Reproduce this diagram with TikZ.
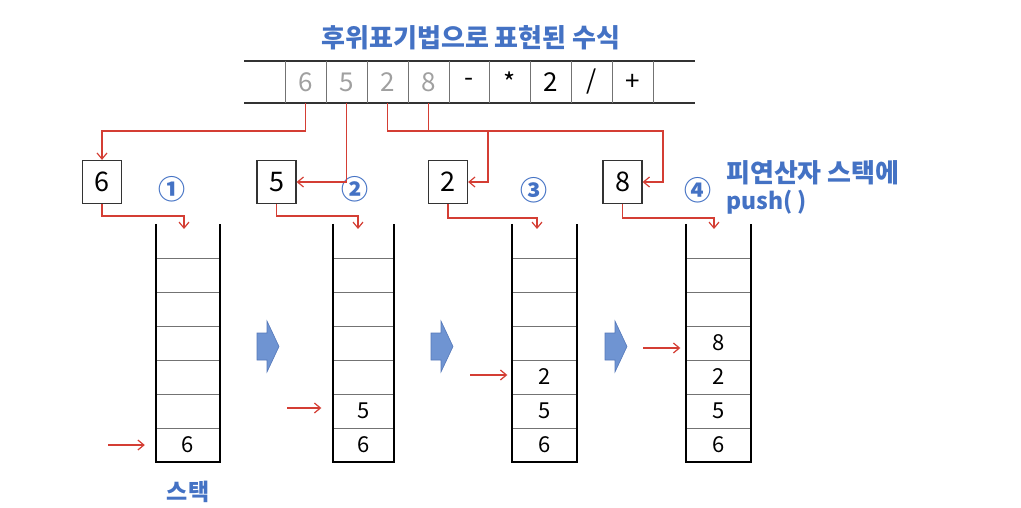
\documentclass[tikz,border=0pt]{standalone}
\usepackage{fontspec}
\setmainfont{Noto Sans CJK KR}
\usetikzlibrary{arrows.meta}
\definecolor{kblue}{RGB}{68,114,196}
\definecolor{kred}{RGB}{212,62,52}
\definecolor{kgray}{RGB}{160,160,160}
\definecolor{arrfill}{RGB}{111,148,210}
\definecolor{arrdraw}{RGB}{85,120,185}
\tikzset{
  cell/.style={minimum width=41pt,minimum height=42pt,inner sep=0pt,font=\fontsize{26}{28}\selectfont},
  graycell/.style={cell,text=kgray},
  valbox/.style={draw=black!80,line width=1.2pt,minimum width=39pt,minimum height=43pt,inner sep=0pt,font=\fontsize{27}{29}\selectfont},
  scell/.style={minimum width=64pt,minimum height=34pt,inner sep=0pt,font=\fontsize{22}{24}\selectfont},
  redarr/.style={draw=kred,line width=1.2pt,-{Straight Barb[length=6pt,width=10pt]}},
  wall/.style={line width=2.6pt,black},
  divider/.style={line width=1pt,black!55},
  blabel/.style={text=kblue,font=\bfseries\fontsize{26}{28}\selectfont,inner sep=0pt},
  circnum/.style={text=kblue,font=\bfseries\fontsize{27}{29}\selectfont,inner sep=0pt},
  blockarr/.style={fill=arrfill,draw=arrdraw,line width=0.6pt}
}
\begin{document}
\begin{tikzpicture}[x=1pt,y=-1pt]
\useasboundingbox (0,0) rectangle (1021,508);
% title
\node[text=kblue,font=\bfseries\fontsize{26}{30}\selectfont] (title) at (471,38) {후위표기법으로 표현된 수식};
% table
\draw[line width=1.8pt,black!80] (244,61) -- (695,61);
\draw[line width=1.8pt,black!80] (244,103) -- (695,103);
\foreach \x in {285,326,367,408,449,489.5,530.5,571.5,612.5,653.5}
  \draw[line width=1pt,black!55] (\x,61) -- (\x,103);
\node[graycell] (c1) at (305.5,82) {6};
\node[graycell] (c2) at (346.5,82) {5};
\node[graycell] (c3) at (387.5,82) {2};
\node[graycell] (c4) at (428.5,82) {8};
\node[cell] (c5) at (469,82) {-};
\node[cell] (c6) at (510,82) {*};
\node[cell] (c7) at (551,82) {2};
\node[cell] (c8) at (592,82) {/};
\node[cell] (c9) at (633,82) {+};
% value boxes
\node[valbox] (b1) at (102,182) {6};
\node[valbox] (b2) at (276.5,182) {5};
\node[valbox] (b3) at (448,182) {2};
\node[valbox] (b4) at (622.5,182) {8};
% circled numbers
\node[circnum] (n1) at (172,189) {①};
\node[circnum] (n2) at (355,189) {②};
\node[circnum] (n3) at (534,190) {③};
\node[circnum] (n4) at (698,190) {④};
\node[blabel,anchor=west] (lab1) at (726,173) {피연산자 스택에};
\node[blabel,anchor=west,font=\bfseries\fontsize{23}{26}\selectfont] (lab2) at (726,202) {push( )};
% connectors from table to boxes
\coordinate (j1) at (102,131);
\coordinate (j3) at (488,131);
\coordinate (j4) at (663,131);
\draw[redarr] (c1.south) |- (j1) -- (b1.north);
\draw[redarr] (c2.south) |- (b2.east);
\draw[redarr] (c3.south) |- (j3) |- (b3.east);
\draw[redarr] (c4.south) |- (j4) |- (b4.east);
% stacks
\foreach \l/\r in {156/220,333/394,512/577,686/751}{
  \foreach \y in {258,292,326,360,394,428}
    \draw[divider] (\l,\y) -- (\r,\y);
  \draw[wall] (\l,224) -- (\l,462) -- (\r,462) -- (\r,224);
}
% stack contents
\node[scell] (s1a) at (188,445) {6};
\node[scell] (s2a) at (363.5,445) {6};
\node[scell] (s2b) at (363.5,411) {5};
\node[scell] (s3a) at (544.5,445) {6};
\node[scell] (s3b) at (544.5,411) {5};
\node[scell] (s3c) at (544.5,377) {2};
\node[scell] (s4a) at (718.5,445) {6};
\node[scell] (s4b) at (718.5,411) {5};
\node[scell] (s4c) at (718.5,377) {2};
\node[scell] (s4d) at (718.5,343) {8};
\node[text=kblue,font=\bfseries\fontsize{23}{26}\selectfont] (stk) at (188,492) {스택};
% connectors from boxes to stack tops
\coordinate (t1) at (184,229);
\coordinate (t2) at (358,229);
\coordinate (t3) at (537,229);
\coordinate (t4) at (714,229);
\draw[redarr] (b1.south) -- ++(0,12) -| (t1);
\draw[redarr] (b2.south) -- ++(0,12) -| (t2);
\draw[redarr] (b3.south) -- ++(0,14) -| (t3);
\draw[redarr] (b4.south) -- ++(0,14) -| (t4);
% push arrows
\coordinate (p1) at (108,445);
\coordinate (p2) at (287,408);
\coordinate (p3) at (470,375);
\coordinate (p4) at (643,348);
\draw[redarr] (p1) -- ([xshift=-11pt]s1a.west);
\draw[redarr] (p2) -- ([xshift=-10pt,yshift=3pt]s2b.west);
\draw[redarr] (p3) -- ([xshift=-5pt,yshift=2pt]s3c.west);
\draw[redarr] (p4) -- ([xshift=-6pt,yshift=-5pt]s4d.west);
% block arrows
\foreach \x in {257,431,605}
  \draw[blockarr] (\x,333) -- (\x+10,333) -- (\x+10,321) -- (\x+22,346.5) -- (\x+10,372) -- (\x+10,360) -- (\x,360) -- cycle;
\end{tikzpicture}
\end{document}
